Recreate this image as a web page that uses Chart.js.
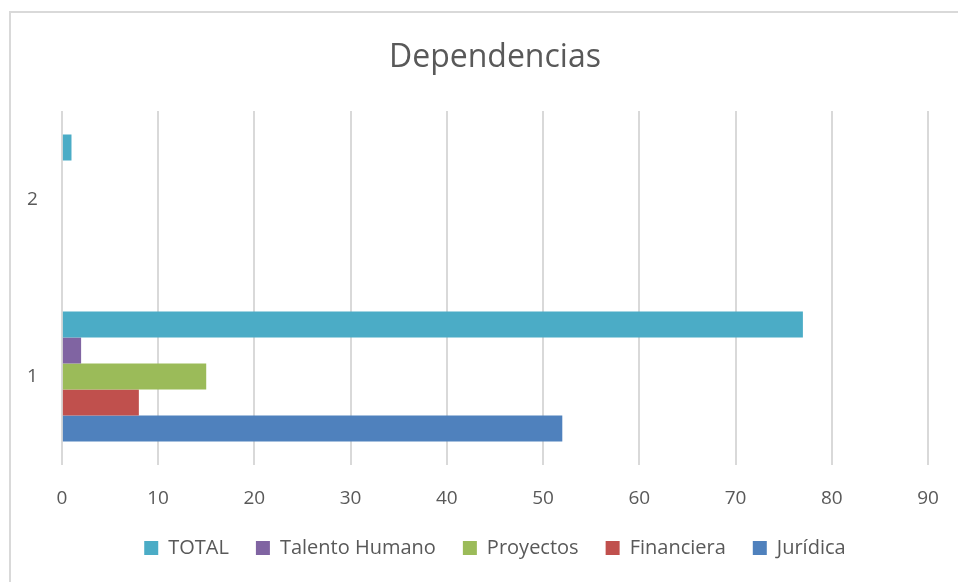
<!DOCTYPE html>
<html>
<head>
<meta charset="utf-8">
<script src="https://cdn.jsdelivr.net/npm/chart.js@4"></script>
<style>
  html, body { margin: 0; padding: 0; background: #ffffff; }
  #wrap { position: relative; width: 958px; height: 582px; overflow: hidden; }
  #frame { position: absolute; left: 9px; top: 11px; width: 1000px; height: 700px;
           border-left: 2px solid #d9d9d9; border-top: 2px solid #d9d9d9; }
  canvas { position: absolute; left: 0; top: 0; }
</style>
</head>
<body>
<div id="wrap">
  <div id="frame"></div>
  <canvas id="c" width="958" height="582"></canvas>
</div>
<script>
const categories = ['1', '2'];
const seriesNames = ['TOTAL', 'Talento Humano', 'Proyectos', 'Financiera', 'Jurídica'];
const total = [77, 1];
const talentoHumano = [2, 0];
const proyectos = [15, 0];
const financiera = [8, 0];
const juridica = [52, 0];
const xTicks = [0, 10, 20, 30, 40, 50, 60, 70, 80, 90];
const colors = ['#4BACC6', '#8064A2', '#9BBB59', '#C0504D', '#4F81BD'];

const seriesValues = [total, talentoHumano, proyectos, financiera, juridica];
const FONT = "'Open Sans', sans-serif";
const TXT = '#595959';

// Centre the title and legend on the plot area (as the original does)
const centerOnPlot = {
  id: 'centerOnPlot',
  afterLayout(chart) {
    const ca = chart.chartArea;
    const mid = (ca.left + ca.right) / 2;
    [chart.legend, chart.titleBlock].forEach(b => {
      if (!b) return;
      const dx = mid - (b.left + b.right) / 2;
      b.left += dx; b.right += dx;
    });
  }
};

new Chart(document.getElementById('c'), {
  type: 'bar',
  data: {
    labels: categories,
    datasets: seriesNames.map((n, i) => ({
      label: n,
      data: seriesValues[i],
      backgroundColor: colors[i],
      borderWidth: 0,
      categoryPercentage: 0.734,
      barPercentage: 1.0
    }))
  },
  plugins: [centerOnPlot],
  options: {
    indexAxis: 'y',
    responsive: false,
    animation: false,
    layout: { padding: { left: 3, right: 30, top: 0, bottom: 14 } },
    plugins: {
      title: {
        display: true,
        text: 'Dependencias',
        color: TXT,
        font: { family: FONT, size: 32, weight: '400' },
        padding: { top: 39, bottom: 33.6 }
      },
      legend: {
        position: 'bottom',
        labels: {
          color: TXT,
          font: { family: FONT, size: 20 },
          boxWidth: 14,
          boxHeight: 14,
          padding: 27
        }
      },
      tooltip: { enabled: false }
    },
    scales: {
      x: {
        min: 0, max: 90,
        afterBuildTicks: (s) => { s.ticks = xTicks.map(v => ({ value: v })); },
        afterFit: (s) => { s.height = 46; },
        grid: { color: '#d9d9d9', lineWidth: 2, drawTicks: false },
        border: { display: false },
        ticks: { color: TXT, font: { family: FONT, size: 19, lineHeight: 1.5 }, padding: 19 }
      },
      y: {
        reverse: true,
        grid: { display: false, drawTicks: false },
        border: { display: false },
        ticks: { color: TXT, font: { family: FONT, size: 19 }, padding: 24 }
      }
    }
  }
});
</script>
</body>
</html>
